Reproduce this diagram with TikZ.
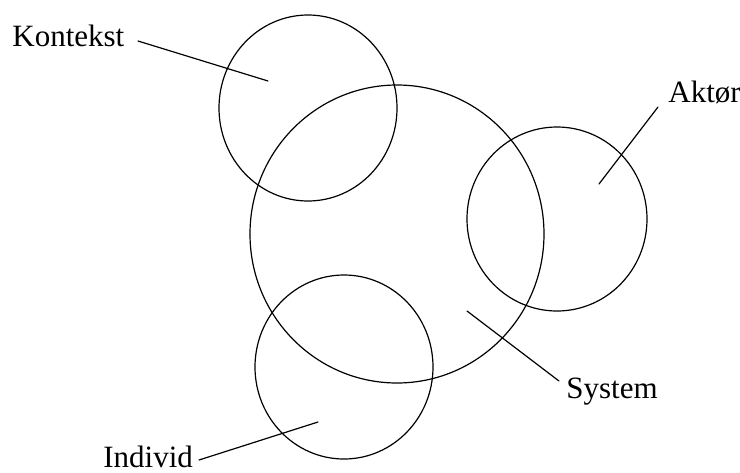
\documentclass[tikz,border=0pt]{standalone}
\usepackage{fontspec}
\setmainfont{Liberation Serif}

\begin{document}
\begin{tikzpicture}[x=0.5pt,y=-0.5pt,line join=round,line cap=round,
    font=\fontsize{15.5}{17}\selectfont,
    cerchio/.style={line width=0.6pt},
    etichetta/.style={anchor=base west,inner sep=0pt},
    richiamo/.style={line width=0.6pt}]

  \useasboundingbox (0,0) rectangle (740,472);

  % ---- i quattro insiemi ------------------------------------------------
  \draw[cerchio] (397,234) ellipse (147 and 149);   % System
  \draw[cerchio] (308,108) ellipse (89 and 93);     % Kontekst
  \draw[cerchio] (557,219) ellipse (90 and 92);     % Aktor
  \draw[cerchio] (344,367) ellipse (89 and 92);     % Individ

  % ---- etichette ---------------------------------------------------------
  \node[etichetta] (kontekst) at (12,46)  {Kontekst};
  \node[etichetta] (aktor)    at (668,102) {Aktør};
  \node[etichetta] (system)   at (566,398) {System};
  \node[etichetta] (individ)  at (103,467) {Individ};

  % ---- linee di richiamo ---------------------------------------------------
  \coordinate (kontekst-a) at (138,41);  \coordinate (kontekst-b) at (268,81);
  \coordinate (aktor-a)    at (658,107); \coordinate (aktor-b)    at (599,184);
  \coordinate (system-a)   at (559,381); \coordinate (system-b)   at (467,311);
  \coordinate (individ-a)  at (199,460); \coordinate (individ-b)  at (318,422);

  \draw[richiamo] (kontekst-a) -- (kontekst-b);
  \draw[richiamo] (aktor-a) -- (aktor-b);
  \draw[richiamo] (system-a) -- (system-b);
  \draw[richiamo] (individ-a) -- (individ-b);

\end{tikzpicture}
\end{document}
